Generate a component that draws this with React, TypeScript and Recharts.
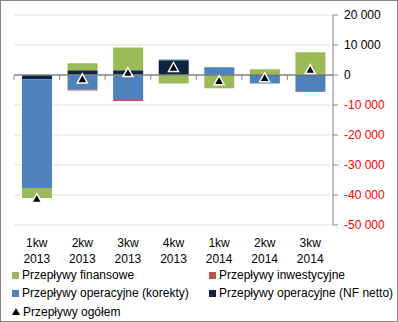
import React from 'react';
import { ComposedChart, Bar, Scatter, XAxis, YAxis, CartesianGrid, ReferenceLine, Legend } from 'recharts';

const quarters = ['1kw', '2kw', '3kw', '4kw', '1kw', '2kw', '3kw'];
const years = ['2013', '2013', '2013', '2013', '2014', '2014', '2014'];
const nfNetto = [-1400, 1600, 1600, 4900, 0, -300, -300];
const korekty = [-36300, -4900, -8300, 300, 2600, -2500, -5100];
const inwestycyjne = [0, -300, -400, 0, -300, 0, -300];
const finansowe = [-3300, 2300, 7600, -2800, -4100, 1900, 7600];
const ogolem = [-41200, -1300, 800, 2500, -1900, -900, 1800];
const yTicks = [20000, 10000, 0, -10000, -20000, -30000, -40000, -50000];

const GREEN = '#9BBB59';
const RED = '#C0504D';
const BLUE = '#4F81BD';
const NAVY = '#0F243E';
const AXIS = '#868686';
const FONT = '"Liberation Sans", Arial, sans-serif';

const data = quarters.map((q, i) => ({
  name: `${q} ${years[i]}`,
  nf: nfNetto[i],
  kor: korekty[i],
  inw: inwestycyjne[i],
  fin: finansowe[i],
  total: ogolem[i],
}));

const legendItems = [
  { label: 'Przepływy finansowe', color: GREEN },
  { label: 'Przepływy inwestycyjne', color: RED },
  { label: 'Przepływy operacyjne (korekty)', color: BLUE },
  { label: 'Przepływy operacyjne (NF netto)', color: NAVY },
  { label: 'Przepływy ogółem', color: '#000', triangle: true },
];

const fmt = (v: number) => String(v).replace(/\B(?=(\d{3})+(?!\d))/g, ' ');

const QuarterTick = ({ x, y, payload }: any) => {
  const [q, yr] = String(payload.value).split(' ');
  return (
    <text x={x} y={y} textAnchor="middle" fontSize={12} fill="#000" fontFamily={FONT}>
      <tspan x={x} dy={14}>{q}</tspan>
      <tspan x={x} dy={16}>{yr}</tspan>
    </text>
  );
};

const ValueTick = ({ x, y, payload }: any) => (
  <text x={x} y={y} dy={4} textAnchor="start" fontSize={12} fontFamily={FONT}
    fill={payload.value < 0 ? '#FF0000' : '#000'}>
    {fmt(payload.value)}
  </text>
);

const TriangleDot = ({ cx, cy }: any) => (
  <path d={`M${cx},${cy - 5}L${cx + 5},${cy + 4}L${cx - 5},${cy + 4}Z`}
    fill="#000" stroke="#fff" strokeWidth={1.5} />
);

const LegendBox = () => (
  <div style={{
    display: 'grid', gridTemplateColumns: '197px 199px', paddingTop: 5,
    height: 55, fontFamily: FONT, fontSize: 12, lineHeight: '18px', color: '#000',
  }}>
    {legendItems.map((it) => (
      <div key={it.label} style={{ display: 'flex', alignItems: 'center', paddingLeft: 11, whiteSpace: 'nowrap' }}>
        {it.triangle ? (
          <svg width={8} height={8} style={{ marginRight: 3 }}>
            <path d="M4,0L8,7L0,7Z" fill="#000" />
          </svg>
        ) : (
          <span style={{ display: 'inline-block', width: 7, height: 7, background: it.color, marginRight: 3 }} />
        )}
        {it.label}
      </div>
    ))}
  </div>
);

export default function App() {
  return (
    <div style={{
      position: 'absolute', left: 0, top: 0, width: 396, height: 320,
      border: `1px solid ${AXIS}`, background: '#fff',
    }}>
      <ComposedChart width={396} height={320} data={data} stackOffset="sign"
        margin={{ top: 14, right: 0, bottom: 0, left: 13 }}>
        <CartesianGrid vertical={false} stroke="#E3E3E3" />
        <XAxis dataKey="name" axisLine={false} tickLine={false} height={36}
          interval={0} tick={<QuarterTick />} />
        <YAxis orientation="right" width={64} domain={[-50000, 20000]} ticks={yTicks}
          interval={0} allowDataOverflow stroke={AXIS} tickSize={5} tickMargin={6}
          tick={<ValueTick />} />
        <Bar dataKey="nf" stackId="a" fill={NAVY} barSize={30} isAnimationActive={false} />
        <Bar dataKey="kor" stackId="a" fill={BLUE} barSize={30} isAnimationActive={false} />
        <Bar dataKey="inw" stackId="a" fill={RED} barSize={30} isAnimationActive={false} />
        <Bar dataKey="fin" stackId="a" fill={GREEN} barSize={30} isAnimationActive={false} />
        <ReferenceLine y={0} stroke={AXIS} strokeWidth={1.5} />
        {data.map((d) => (
          <ReferenceLine key={d.name} position="start" stroke={AXIS}
            segment={[{ x: d.name, y: 0 }, { x: d.name, y: -1600 }]} />
        ))}
        <Scatter dataKey="total" shape={<TriangleDot />} isAnimationActive={false} />
        <Legend verticalAlign="bottom" content={<LegendBox />}
          wrapperStyle={{ left: 0, width: 396 }} />
      </ComposedChart>
    </div>
  );
}
